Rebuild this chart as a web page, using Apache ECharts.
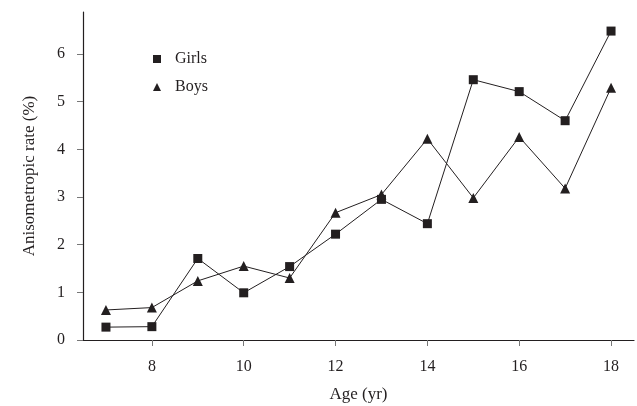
<!DOCTYPE html>
<html>
<head>
<meta charset="utf-8">
<script src="https://cdn.jsdelivr.net/npm/echarts@6/dist/echarts.min.js"></script>
<style>
html, body { margin: 0; padding: 0; background: #fff; }
#chart { width: 637px; height: 406px; }
</style>
</head>
<body>
<div id="chart"></div>
<script>
// data
var ages = [7, 8, 9, 10, 11, 12, 13, 14, 15, 16, 17, 18];
var girls = [0.27, 0.28, 1.71, 0.99, 1.54, 2.22, 2.95, 2.44, 5.46, 5.21, 4.6, 6.48];
var boys = [0.63, 0.68, 1.24, 1.55, 1.3, 2.67, 3.05, 4.22, 2.98, 4.26, 3.18, 5.29];
var xTicks = [8, 10, 12, 14, 16, 18];
var yTicks = [0, 1, 2, 3, 4, 5, 6];

var ink = '#231f20';
var font = 'Liberation Serif';

function pairs(vals) {
	return ages.map(function (a, i) { return [a, vals[i]]; });
}

var myChart = echarts.init(document.getElementById('chart'));

var option = {
	animation : false,
	textStyle : { fontFamily : font, color : ink },
	grid : { left : 83, right : 3, top : 12, bottom : 66, outerBoundsMode : 'none' },
	legend : {
		orient : 'vertical',
		left : 148,
		top : 46,
		itemGap : 12,
		itemWidth : 8,
		itemHeight : 8,
		textStyle : { fontFamily : font, fontSize : 16, color : ink, padding : [0, 0, 0, 9] },
		data : [
			{ name : 'Girls', icon : 'rect' },
			{ name : 'Boys', icon : 'triangle', itemStyle : { color : ink } }
		]
	},
	xAxis : {
		type : 'value',
		min : 6.5,
		max : 18.5,
		name : 'Age (yr)',
		nameLocation : 'middle',
		nameGap : 46,
		nameTextStyle : { fontFamily : font, fontSize : 17, color : ink },
		splitLine : { show : false },
		axisLine : { lineStyle : { color : ink, width : 1.2 } },
		axisTick : { customValues : xTicks, length : 6, lineStyle : { color : '#777' } },
		axisLabel : { customValues : xTicks, margin : 19, fontSize : 16, color : ink, fontFamily : font }
	},
	yAxis : {
		type : 'value',
		min : 0,
		max : 6.88,
		name : 'Anisometropic rate (%)',
		nameLocation : 'middle',
		nameGap : 45,
		nameTextStyle : { fontFamily : font, fontSize : 17, color : ink },
		splitLine : { show : false },
		axisLine : { show : true, lineStyle : { color : ink, width : 1.2 } },
		axisTick : { show : true, customValues : yTicks, length : 6, lineStyle : { color : '#777' } },
		axisLabel : { customValues : yTicks, margin : 18, fontSize : 16, color : ink, fontFamily : font }
	},
	series : [ {
		name : 'Girls',
		type : 'line',
		data : pairs(girls),
		symbol : 'rect',
		symbolSize : 9,
		itemStyle : { color : ink },
		lineStyle : { color : ink, width : 1 }
	}, {
		name : 'Boys',
		type : 'line',
		data : pairs(boys),
		symbol : 'triangle',
		symbolSize : 10,
		itemStyle : { color : ink },
		lineStyle : { color : ink, width : 1 }
	} ]
};

myChart.setOption(option);
</script>
</body>
</html>
